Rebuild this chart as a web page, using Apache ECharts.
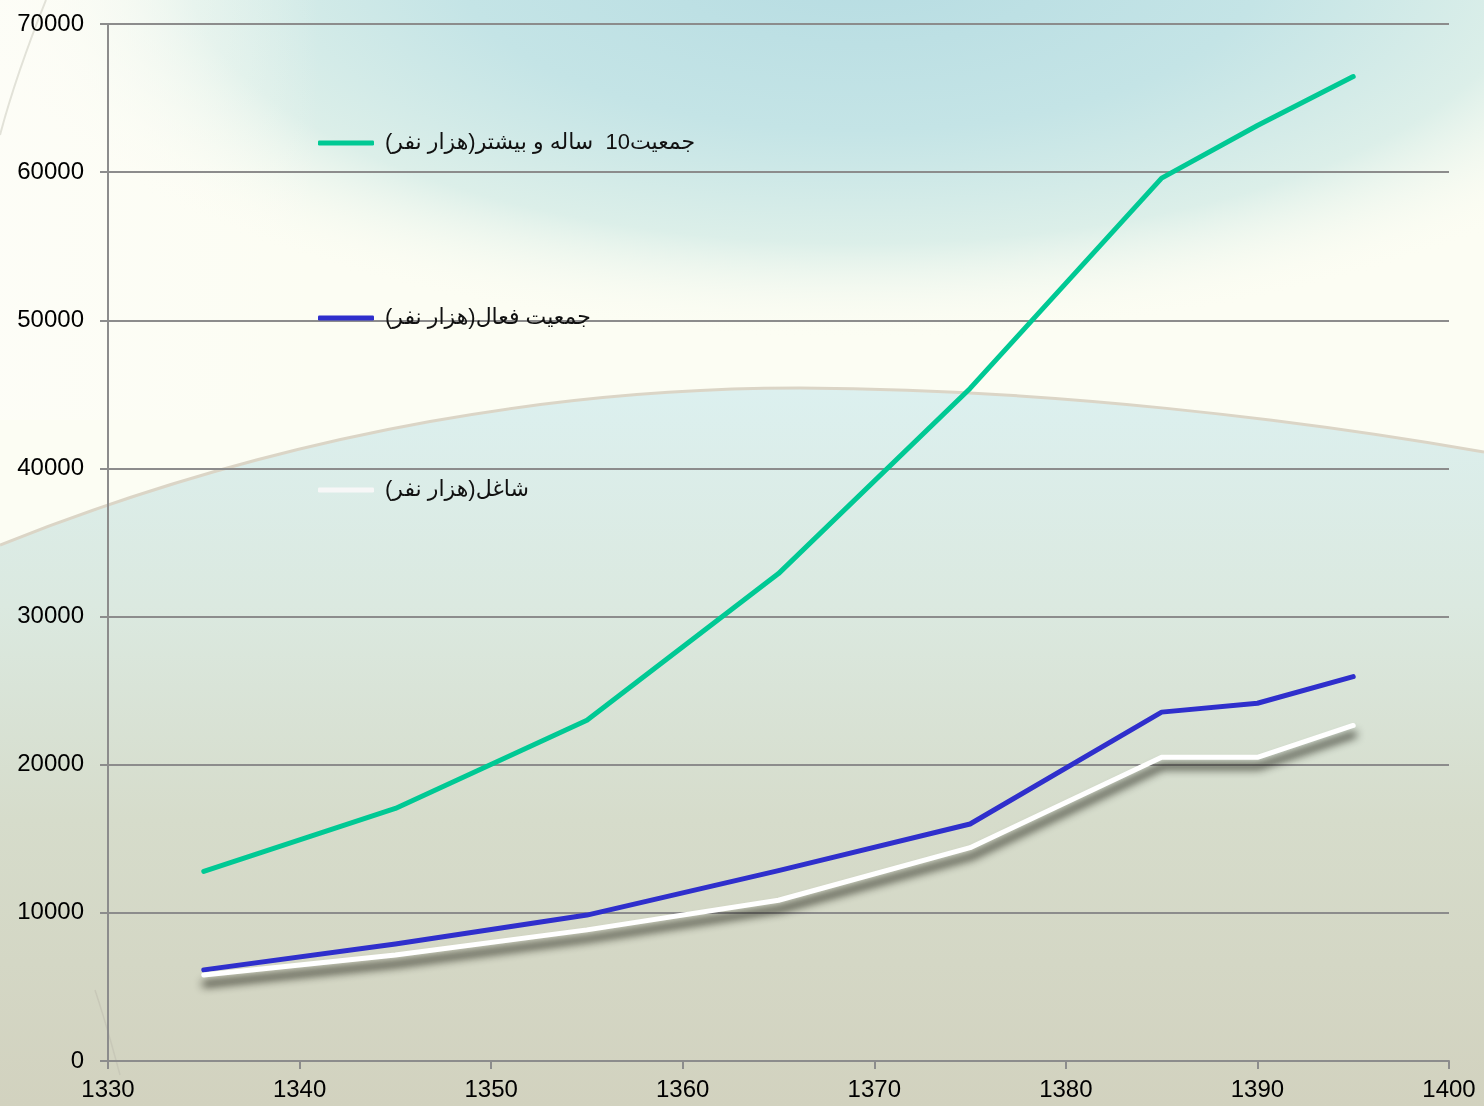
<!DOCTYPE html>
<html>
<head>
<meta charset="utf-8">
<script src="https://cdn.jsdelivr.net/npm/echarts@6/dist/echarts.min.js"></script>
<style>
  html, body { margin: 0; padding: 0; width: 1484px; height: 1106px; overflow: hidden; }
  #bg { position: absolute; left: 0; top: 0; width: 1484px; height: 1106px; }
  #chart { position: absolute; left: 0; top: 0; width: 1484px; height: 1106px; }
</style>
</head>
<body>
<svg id="bg" width="1484" height="1106" xmlns="http://www.w3.org/2000/svg">
  <defs>
    <radialGradient id="topCyan" cx="860" cy="-40" r="900" gradientUnits="userSpaceOnUse" gradientTransform="translate(860 -40) scale(1 0.42) translate(-860 40)">
      <stop offset="0" stop-color="#b6dce2"/>
      <stop offset="0.45" stop-color="#c4e4e6"/>
      <stop offset="0.75" stop-color="#dcefe9"/>
      <stop offset="1" stop-color="#fbfcf2" stop-opacity="0"/>
    </radialGradient>
    <linearGradient id="lower" x1="0" y1="390" x2="0" y2="1106" gradientUnits="userSpaceOnUse">
      <stop offset="0" stop-color="#dcf0ef"/>
      <stop offset="0.3" stop-color="#dbe9e0"/>
      <stop offset="0.6" stop-color="#d6dccb"/>
      <stop offset="1" stop-color="#d2d2bf"/>
    </linearGradient>
    <linearGradient id="leftFade" x1="0" y1="0" x2="320" y2="0" gradientUnits="userSpaceOnUse">
      <stop offset="0" stop-color="#fdfdf7" stop-opacity="0.9"/>
      <stop offset="1" stop-color="#fdfdf7" stop-opacity="0"/>
    </linearGradient>
  </defs>
  <rect x="0" y="0" width="1484" height="1106" fill="#fcfdf3"/>
  <rect x="0" y="0" width="1484" height="420" fill="url(#topCyan)"/>
  <rect x="0" y="0" width="320" height="420" fill="url(#leftFade)"/>
  <path d="M0,545 C300,425 580,388 800,388 C1050,389 1300,420 1484,452 L1484,1106 L0,1106 Z" fill="url(#lower)"/>
  <path d="M0,545 C300,425 580,388 800,388 C1050,389 1300,420 1484,452" fill="none" stroke="#dbd5c6" stroke-width="3"/>
  <path d="M46,0 C30,40 12,90 0,135" fill="none" stroke="#e2e2d8" stroke-width="2"/>
  <path d="M95,990 C105,1020 112,1045 120,1075" fill="none" stroke="#c8c8b8" stroke-width="1.5"/>
</svg>
<div id="chart"></div>
<script>
const years = [1335, 1345, 1355, 1365, 1375, 1385, 1390, 1395];
const pop10Plus = [12800, 17050, 23000, 32900, 45400, 59600, 63150, 66450];
const activePop = [6150, 7900, 9850, 12850, 16000, 23550, 24150, 25950];
const employedPop = [5800, 7150, 8850, 10850, 14400, 20500, 20500, 22650];
const seriesNames = [
  'جمعیت10  ساله و بیشتر(هزار نفر)',
  'جمعیت فعال(هزار نفر)',
  'شاغل(هزار نفر)'
];
const xTicks = { min: 1330, max: 1400, interval: 10 };
const yTicks = { min: 0, max: 70000, interval: 10000 };

const pairs = arr => years.map((y, i) => [y, arr[i]]);
const rtl = s => '\u202B' + s + '\u202C';

const chart = echarts.init(document.getElementById('chart'), null, { renderer: 'canvas' });
const font = '"Liberation Sans", "DejaVu Sans", Arial, sans-serif';
const gridColor = '#8c8c8c';

const legendBase = (name, top) => ({
  data: [name],
  left: 318,
  top: top,
  padding: 0,
  orient: 'vertical',
  icon: 'roundRect',
  itemWidth: 56,
  itemHeight: 5,
  selectedMode: false,
  formatter: n => rtl(n),
  textStyle: { fontFamily: font, fontSize: 22, color: '#111', padding: [0, 0, 0, 6] }
});

chart.setOption({
  backgroundColor: 'transparent',
  animation: false,
  grid: { left: 108, right: 35, top: 24, bottom: 45, containLabel: false },
  legend: [
    legendBase(seriesNames[0], 132),
    legendBase(seriesNames[1], 307),
    legendBase(seriesNames[2], 479)
  ],
  xAxis: {
    type: 'value',
    min: xTicks.min, max: xTicks.max, interval: xTicks.interval,
    axisLine: { show: true, lineStyle: { color: gridColor, width: 2 } },
    axisTick: { show: true, length: 8, lineStyle: { color: gridColor, width: 2 } },
    splitLine: { show: false },
    axisLabel: { fontFamily: font, fontSize: 24, color: '#000', margin: 17, formatter: v => String(v) }
  },
  yAxis: {
    type: 'value',
    min: yTicks.min, max: yTicks.max, interval: yTicks.interval,
    axisLine: { show: true, lineStyle: { color: gridColor, width: 2 } },
    axisTick: { show: true, length: 8, lineStyle: { color: gridColor, width: 2 } },
    splitLine: { show: true, lineStyle: { color: gridColor, width: 2 } },
    axisLabel: { fontFamily: font, fontSize: 24, color: '#000', margin: 24, formatter: v => String(v) }
  },
  series: [
    {
      name: seriesNames[0], type: 'line', data: pairs(pop10Plus),
      showSymbol: false, symbol: 'none', color: '#00c994',
      lineStyle: { width: 5, color: '#00c994', cap: 'round', join: 'round' }
    },
    {
      name: seriesNames[1], type: 'line', data: pairs(activePop),
      showSymbol: false, symbol: 'none', color: '#2f2fcc',
      lineStyle: { width: 5, color: '#2f2fcc', cap: 'round', join: 'round' }
    },
    {
      name: seriesNames[2], type: 'line', data: pairs(employedPop),
      showSymbol: false, symbol: 'none', color: '#f7f7f7',
      lineStyle: { width: 5, color: '#ffffff', cap: 'round', join: 'round',
        shadowColor: 'rgba(15,15,5,0.9)', shadowBlur: 9, shadowOffsetX: 1, shadowOffsetY: 9 }
    }
  ]
});
</script>
</body>
</html>
